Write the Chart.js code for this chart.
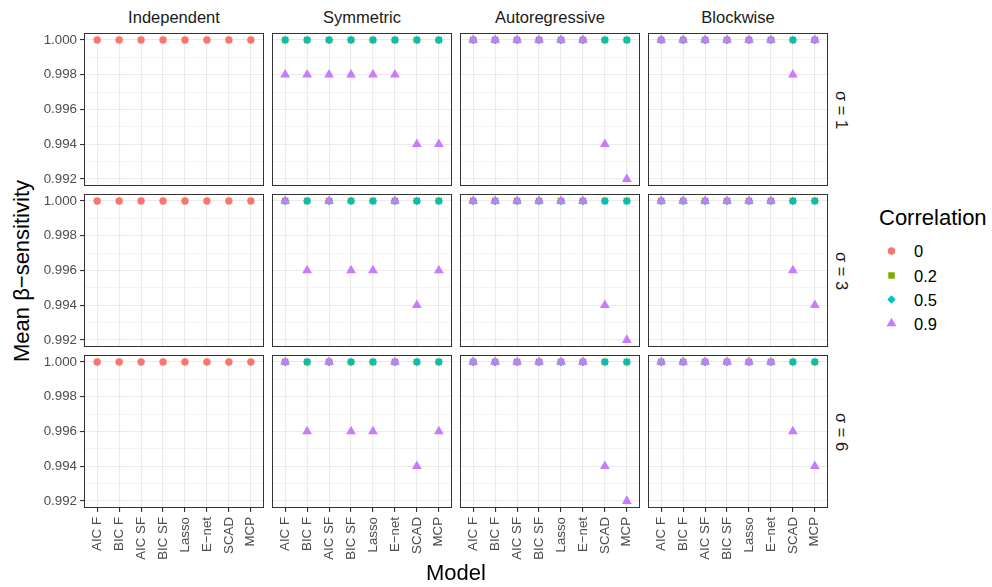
<!DOCTYPE html>
<html><head><meta charset="utf-8">
<script src="https://cdn.jsdelivr.net/npm/chart.js@4.4.1/dist/chart.umd.min.js"></script>
<style>
body{margin:0;background:#fff;width:992px;height:587px;overflow:hidden;position:relative;font-family:'Liberation Sans',Arial,Helvetica,sans-serif;}
canvas{position:absolute;}
.t{position:absolute;white-space:nowrap;line-height:1;}
</style></head><body>
<script>
// ---------- data ----------
const models = ['AIC F','BIC F','AIC SF','BIC SF','Lasso','E\u2212net','SCAD','MCP'];
const structures = ['Independent','Symmetric','Autoregressive','Blockwise'];
const sigmaLabels = ['\u03c3 = 1','\u03c3 = 3','\u03c3 = 6'];
const correlations = ['0','0.2','0.5','0.9'];
const yMajorTicks = [0.992, 0.994, 0.996, 0.998, 1.000];

// sigma = 1
const s1_independent_r0 = [1.000,1.000,1.000,1.000,1.000,1.000,1.000,1.000];
const s1_symmetric_r02  = [1.000,1.000,1.000,1.000,1.000,1.000,1.000,1.000];
const s1_symmetric_r05  = [1.000,1.000,1.000,1.000,1.000,1.000,1.000,1.000];
const s1_symmetric_r09  = [0.998,0.998,0.998,0.998,0.998,0.998,0.994,0.994];
const s1_autoreg_r02    = [1.000,1.000,1.000,1.000,1.000,1.000,1.000,1.000];
const s1_autoreg_r05    = [1.000,1.000,1.000,1.000,1.000,1.000,1.000,1.000];
const s1_autoreg_r09    = [1.000,1.000,1.000,1.000,1.000,1.000,0.994,0.992];
const s1_blockwise_r02  = [1.000,1.000,1.000,1.000,1.000,1.000,1.000,1.000];
const s1_blockwise_r05  = [1.000,1.000,1.000,1.000,1.000,1.000,1.000,1.000];
const s1_blockwise_r09  = [1.000,1.000,1.000,1.000,1.000,1.000,0.998,1.000];
// sigma = 3
const s3_independent_r0 = [1.000,1.000,1.000,1.000,1.000,1.000,1.000,1.000];
const s3_symmetric_r02  = [1.000,1.000,1.000,1.000,1.000,1.000,1.000,1.000];
const s3_symmetric_r05  = [1.000,1.000,1.000,1.000,1.000,1.000,1.000,1.000];
const s3_symmetric_r09  = [1.000,0.996,1.000,0.996,0.996,1.000,0.994,0.996];
const s3_autoreg_r02    = [1.000,1.000,1.000,1.000,1.000,1.000,1.000,1.000];
const s3_autoreg_r05    = [1.000,1.000,1.000,1.000,1.000,1.000,1.000,1.000];
const s3_autoreg_r09    = [1.000,1.000,1.000,1.000,1.000,1.000,0.994,0.992];
const s3_blockwise_r02  = [1.000,1.000,1.000,1.000,1.000,1.000,1.000,1.000];
const s3_blockwise_r05  = [1.000,1.000,1.000,1.000,1.000,1.000,1.000,1.000];
const s3_blockwise_r09  = [1.000,1.000,1.000,1.000,1.000,1.000,0.996,0.994];
// sigma = 6
const s6_independent_r0 = [1.000,1.000,1.000,1.000,1.000,1.000,1.000,1.000];
const s6_symmetric_r02  = [1.000,1.000,1.000,1.000,1.000,1.000,1.000,1.000];
const s6_symmetric_r05  = [1.000,1.000,1.000,1.000,1.000,1.000,1.000,1.000];
const s6_symmetric_r09  = [1.000,0.996,1.000,0.996,0.996,1.000,0.994,0.996];
const s6_autoreg_r02    = [1.000,1.000,1.000,1.000,1.000,1.000,1.000,1.000];
const s6_autoreg_r05    = [1.000,1.000,1.000,1.000,1.000,1.000,1.000,1.000];
const s6_autoreg_r09    = [1.000,1.000,1.000,1.000,1.000,1.000,0.994,0.992];
const s6_blockwise_r02  = [1.000,1.000,1.000,1.000,1.000,1.000,1.000,1.000];
const s6_blockwise_r05  = [1.000,1.000,1.000,1.000,1.000,1.000,1.000,1.000];
const s6_blockwise_r09  = [1.000,1.000,1.000,1.000,1.000,1.000,0.996,0.994];

// panels[row][col] = list of [correlation index, values]
const panels = [
  [[[0,s1_independent_r0]], [[1,s1_symmetric_r02],[2,s1_symmetric_r05],[3,s1_symmetric_r09]],
   [[1,s1_autoreg_r02],[2,s1_autoreg_r05],[3,s1_autoreg_r09]], [[1,s1_blockwise_r02],[2,s1_blockwise_r05],[3,s1_blockwise_r09]]],
  [[[0,s3_independent_r0]], [[1,s3_symmetric_r02],[2,s3_symmetric_r05],[3,s3_symmetric_r09]],
   [[1,s3_autoreg_r02],[2,s3_autoreg_r05],[3,s3_autoreg_r09]], [[1,s3_blockwise_r02],[2,s3_blockwise_r05],[3,s3_blockwise_r09]]],
  [[[0,s6_independent_r0]], [[1,s6_symmetric_r02],[2,s6_symmetric_r05],[3,s6_symmetric_r09]],
   [[1,s6_autoreg_r02],[2,s6_autoreg_r05],[3,s6_autoreg_r09]], [[1,s6_blockwise_r02],[2,s6_blockwise_r05],[3,s6_blockwise_r09]]]
];

// ---------- style ----------
const colors = ['#F8766D','#7CAE00','#00BFC4','#C77CFF'];
const shapes = ['circle','rect','rectRot','triangle'];
const radii = [3.7, 4.6, 4.2, 5.7];
const PANEL_LEFT = [84, 272, 460, 648];
const PANEL_TOP = [33, 194, 355];
const PW = 180, PH = 153, YAXW = 50, XAXH = 64;
const TICKFONT = 13.3;
const FONT = "'Liberation Sans', Arial, Helvetica, sans-serif";
Chart.defaults.font.family = FONT;

const yTicks = [];
yMajorTicks.forEach((v, i) => {
  yTicks.push({value: v, major: true});
  if (i < yMajorTicks.length - 1) yTicks.push({value: (v + yMajorTicks[i + 1]) / 2, major: false});
});

const borderPlugin = {
  id: 'panelBorder',
  afterDraw(chart) {
    const a = chart.chartArea, ctx = chart.ctx;
    ctx.save();
    ctx.strokeStyle = '#333333';
    ctx.lineWidth = 1;
    ctx.strokeRect(Math.round(a.left) + 0.5, Math.round(a.top) + 0.5,
                   Math.round(a.right - a.left) - 1, Math.round(a.bottom - a.top) - 1);
    ctx.restore();
  }
};

function addText(txt, x, y, size, color, rot) {
  const d = document.createElement('div');
  d.className = 't';
  d.textContent = txt;
  d.style.fontSize = size + 'px';
  d.style.color = color;
  d.style.left = x + 'px';
  d.style.top = y + 'px';
  d.style.transform = 'translate(-50%,-50%)' + (rot ? ' rotate(' + rot + 'deg)' : '');
  document.body.appendChild(d);
  return d;
}

for (let r = 0; r < 3; r++) {
  for (let c = 0; c < 4; c++) {
    const w = PW + (c === 0 ? YAXW : 0), h = PH + (r === 2 ? XAXH : 0);
    const cv = document.createElement('canvas');
    cv.width = w; cv.height = h;
    cv.style.width = w + 'px'; cv.style.height = h + 'px';
    cv.style.left = (PANEL_LEFT[c] - (c === 0 ? YAXW : 0)) + 'px';
    cv.style.top = PANEL_TOP[r] + 'px';
    document.body.appendChild(cv);
    const datasets = panels[r][c].map(([k, vals]) => ({
      label: correlations[k],
      data: vals.map((v, i) => ({x: i, y: v})),
      pointStyle: shapes[k],
      pointRadius: radii[k],
      pointHoverRadius: radii[k],
      backgroundColor: colors[k],
      borderColor: colors[k],
      borderWidth: 0,
      order: 3 - k,
      clip: false
    }));
    new Chart(cv, {
      type: 'scatter',
      data: {datasets},
      options: {
        responsive: false, animation: false, devicePixelRatio: 1, events: [],
        layout: {padding: 0, autoPadding: false},
        plugins: {legend: {display: false}, tooltip: {enabled: false}},
        scales: {
          x: {
            type: 'linear', min: -0.6, max: 7.6,
            afterBuildTicks: s => { s.ticks = models.map((m, i) => ({value: i})); },
            afterFit: s => { s.height = (r === 2 ? XAXH : 0); s.paddingLeft = 0; s.paddingRight = 0; s.paddingTop = 0; s.paddingBottom = 0; },
            ticks: {display: r === 2, autoSkip: false, minRotation: 90, maxRotation: 90, padding: 5,
                    color: '#4D4D4D', font: {size: TICKFONT}, callback: (v, i) => models[i]},
            grid: {color: '#EBEBEB', lineWidth: 1.1, drawTicks: r === 2, tickLength: 4, tickColor: '#333333'},
            border: {display: false}
          },
          y: {
            type: 'linear', min: 0.9916, max: 1.0004,
            afterBuildTicks: s => { s.ticks = yTicks.map(t => ({value: t.value, major: t.major})); },
            afterFit: s => { s.width = (c === 0 ? YAXW : 0); s.paddingLeft = 0; s.paddingRight = 0; s.paddingTop = 0; s.paddingBottom = 0; },
            ticks: {display: c === 0, autoSkip: false, padding: 3, color: '#4D4D4D', font: {size: TICKFONT},
                    callback: (v, i, t) => (t[i] && t[i].major) ? v.toFixed(3) : ''},
            grid: {color: '#EBEBEB',
                   lineWidth: ctx => (ctx.tick && ctx.tick.major) ? 1.1 : 0.55,
                   drawTicks: c === 0, tickLength: 4,
                   tickColor: ctx => (ctx.tick && ctx.tick.major) ? '#333333' : 'rgba(0,0,0,0)'},
            border: {display: false}
          }
        }
      },
      plugins: [borderPlugin]
    });
  }
}

// strip labels
structures.forEach((s, c) => addText(s, PANEL_LEFT[c] + PW / 2, 16.5, 16.5, '#1A1A1A'));
sigmaLabels.forEach((s, r) => addText(s, 842, PANEL_TOP[r] + PH / 2, 16.5, '#1A1A1A', 90));
// axis titles
addText('Mean \u03b2\u2212sensitivity', 22, 271, 22, '#000000', -90);
addText('Model', 456, 573, 22, '#000000');

// legend
const ttl = addText('Correlation', 879, 218, 22, '#000000');
ttl.style.transform = 'translate(0,-50%)';
const legY = [251, 275.5, 299.5, 323.5];
const svgNS = 'http://www.w3.org/2000/svg';
const svg = document.createElementNS(svgNS, 'svg');
svg.setAttribute('width', '30'); svg.setAttribute('height', '120');
svg.style.position = 'absolute'; svg.style.left = '877px'; svg.style.top = '231px';
function sh(tag, attrs) { const e = document.createElementNS(svgNS, tag); for (const k in attrs) e.setAttribute(k, attrs[k]); svg.appendChild(e); }
const cx = 14.5;
sh('circle', {cx: cx, cy: legY[0] - 231, r: 3.7, fill: colors[0]});
sh('rect', {x: cx - 3.25, y: legY[1] - 231 - 3.25, width: 6.5, height: 6.5, fill: colors[1]});
sh('polygon', {points: `${cx},${legY[2]-231-4.2} ${cx+4.2},${legY[2]-231} ${cx},${legY[2]-231+4.2} ${cx-4.2},${legY[2]-231}`, fill: colors[2]});
sh('polygon', {points: `${cx},${legY[3]-231-5.7} ${cx+4.94},${legY[3]-231+2.85} ${cx-4.94},${legY[3]-231+2.85}`, fill: colors[3]});
document.body.appendChild(svg);
correlations.forEach((lab, i) => {
  const d = addText(lab, 914, legY[i], 16.5, '#000000');
  d.style.transform = 'translate(0,-50%)';
});
</script>
</body></html>
